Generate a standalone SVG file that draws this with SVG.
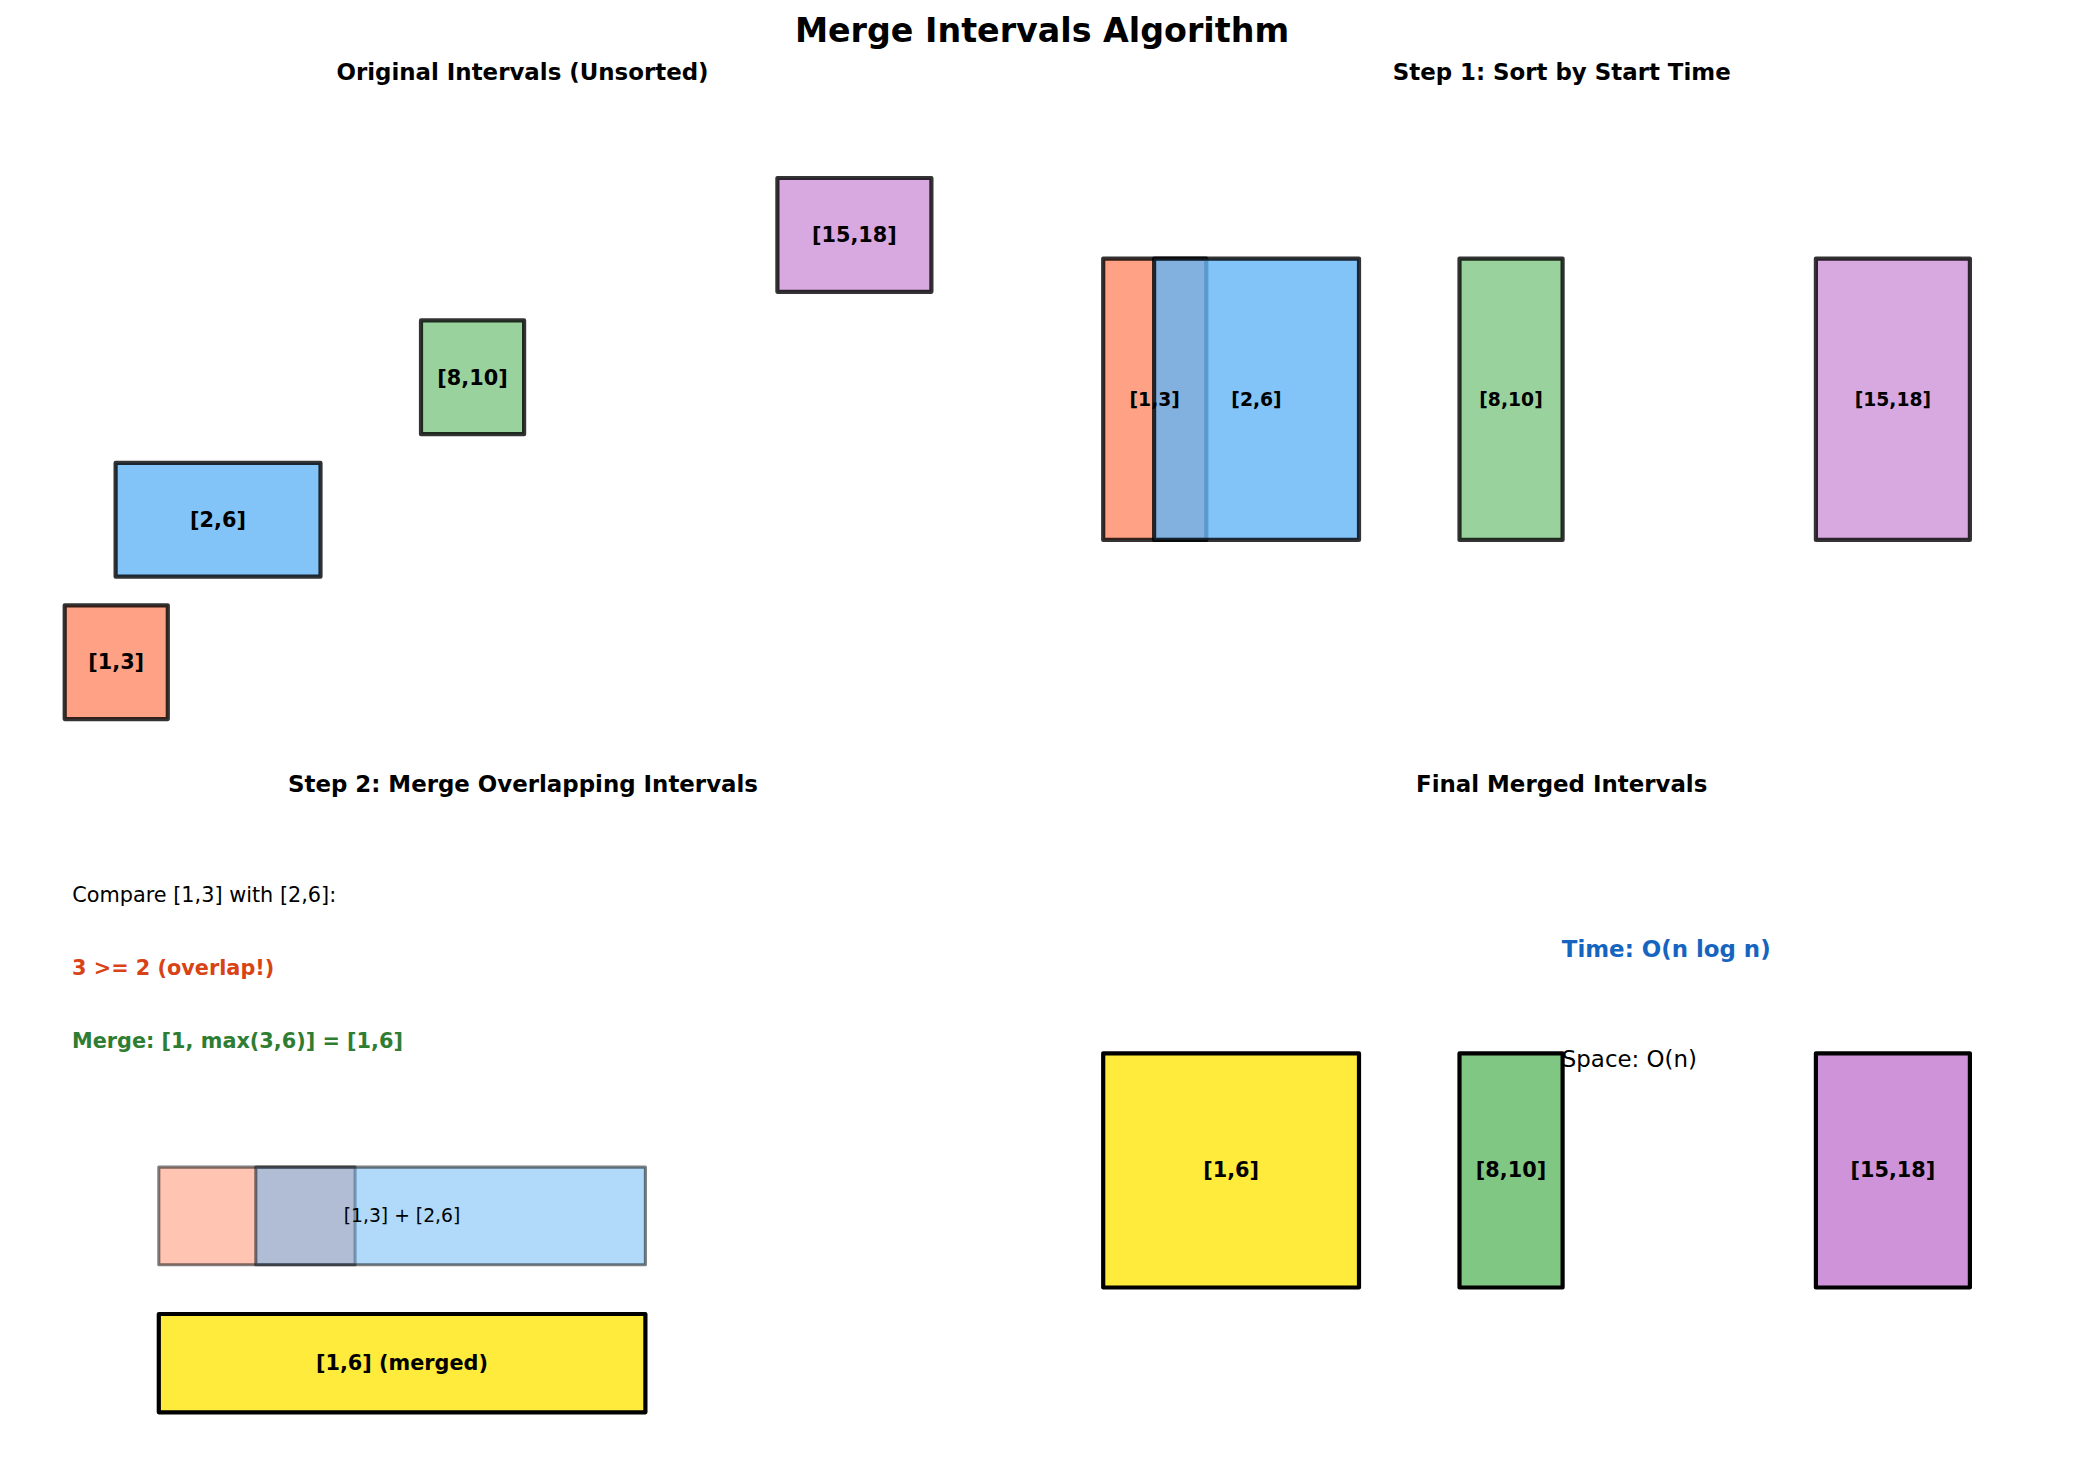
<svg xmlns="http://www.w3.org/2000/svg" width="2085" height="1477" viewBox="0 0 2085 1477">
<style>
text{font-family:"DejaVu Sans","Liberation Sans",sans-serif;fill:#000}
.title{font-size:33.3px;font-weight:bold;text-anchor:middle}
.sub{font-size:22.9px;font-weight:bold;text-anchor:middle}
.lbl{font-size:20.8px;font-weight:bold;text-anchor:middle}
.lbl9{font-size:18.75px;font-weight:bold;text-anchor:middle}
.txt{font-size:20.8px}
.txtb{font-size:20.8px;font-weight:bold}
.b8{stroke:#000;stroke-opacity:0.8;stroke-width:4.2;fill-opacity:0.8;stroke-linejoin:round}
.b5{stroke:#000;stroke-opacity:0.5;stroke-width:3.1;fill-opacity:0.5;stroke-linejoin:round}
.b1{stroke:#000;stroke-width:4.2;stroke-linejoin:round}
.or{fill:#FF8A65}.bl{fill:#64B5F6}.gr{fill:#81C784}.pu{fill:#CE93D8}.ye{fill:#FFEB3B}
</style>
<rect width="2085" height="1477" fill="#fff"/>
<text class="title" x="1042" y="41.7">Merge Intervals Algorithm</text>

<g id="panel1">
<text class="sub" x="522.5" y="80">Original Intervals (Unsorted)</text>
<g id="p1-i13"><rect class="b8 or" x="64.7" y="605.3" width="103.1" height="113.8"/><text class="lbl" x="116.2" y="669.4">[1,3]</text></g>
<g id="p1-i26"><rect class="b8 bl" x="115.6" y="462.9" width="204.9" height="113.8"/><text class="lbl" x="218" y="527">[2,6]</text></g>
<g id="p1-i810"><rect class="b8 gr" x="421" y="320.4" width="103.1" height="113.8"/><text class="lbl" x="472.5" y="384.5">[8,10]</text></g>
<g id="p1-i1518"><rect class="b8 pu" x="777.4" y="178" width="154" height="113.8"/><text class="lbl" x="854.4" y="241.7">[15,18]</text></g>
</g>

<g id="panel2">
<text class="sub" x="1561.7" y="80">Step 1: Sort by Start Time</text>
<g id="p2-i13"><rect class="b8 or" x="1103.2" y="258.6" width="103.1" height="281.3"/></g>
<g id="p2-i26"><rect class="b8 bl" x="1154.1" y="258.6" width="204.9" height="281.3"/></g>
<text class="lbl9" x="1154.7" y="406">[1,3]</text>
<text class="lbl9" x="1256.5" y="406">[2,6]</text>
<g id="p2-i810"><rect class="b8 gr" x="1459.5" y="258.6" width="103.1" height="281.3"/><text class="lbl9" x="1511" y="406">[8,10]</text></g>
<g id="p2-i1518"><rect class="b8 pu" x="1815.9" y="258.6" width="154" height="281.3"/><text class="lbl9" x="1892.9" y="406">[15,18]</text></g>
</g>

<g id="panel3">
<text class="sub" x="523" y="791.5">Step 2: Merge Overlapping Intervals</text>
<text class="txt" x="72.3" y="901.5">Compare [1,3] with [2,6]:</text>
<text class="txtb" x="72" y="975.2" style="fill:#D84315">3 &gt;= 2 (overlap!)</text>
<text class="txtb" x="72" y="1047.7" style="fill:#2E7D32">Merge: [1, max(3,6)] = [1,6]</text>
<g id="p3-i13"><rect class="b5 or" x="158.8" y="1167.1" width="196.3" height="97.7"/></g>
<g id="p3-i26"><rect class="b5 bl" x="255.8" y="1167.1" width="389.6" height="97.7"/></g>
<text x="402" y="1222.4" style="font-size:18.75px;text-anchor:middle">[1,3] + [2,6]</text>
<g id="p3-merged"><rect class="b1 ye" x="158.8" y="1314" width="486.6" height="98.3"/><text class="lbl" x="402" y="1370.3">[1,6] (merged)</text></g>
</g>

<g id="panel4">
<text class="sub" x="1561.7" y="791.5">Final Merged Intervals</text>
<text x="1561.8" y="957" style="font-size:22.9px;font-weight:bold;fill:#1565C0">Time: O(n log n)</text>
<text x="1561.8" y="1066.6" style="font-size:22.9px">Space: O(n)</text>
<g id="p4-i16"><rect class="b1 ye" x="1103.2" y="1053.3" width="255.8" height="234.2"/><text class="lbl" x="1231.1" y="1177.4">[1,6]</text></g>
<g id="p4-i810"><rect class="b1 gr" x="1459.5" y="1053.3" width="103.1" height="234.2"/><text class="lbl" x="1511" y="1177.4">[8,10]</text></g>
<g id="p4-i1518"><rect class="b1 pu" x="1815.9" y="1053.3" width="154" height="234.2"/><text class="lbl" x="1892.9" y="1177.4">[15,18]</text></g>
</g>

<g id="connectors"></g>
</svg>
